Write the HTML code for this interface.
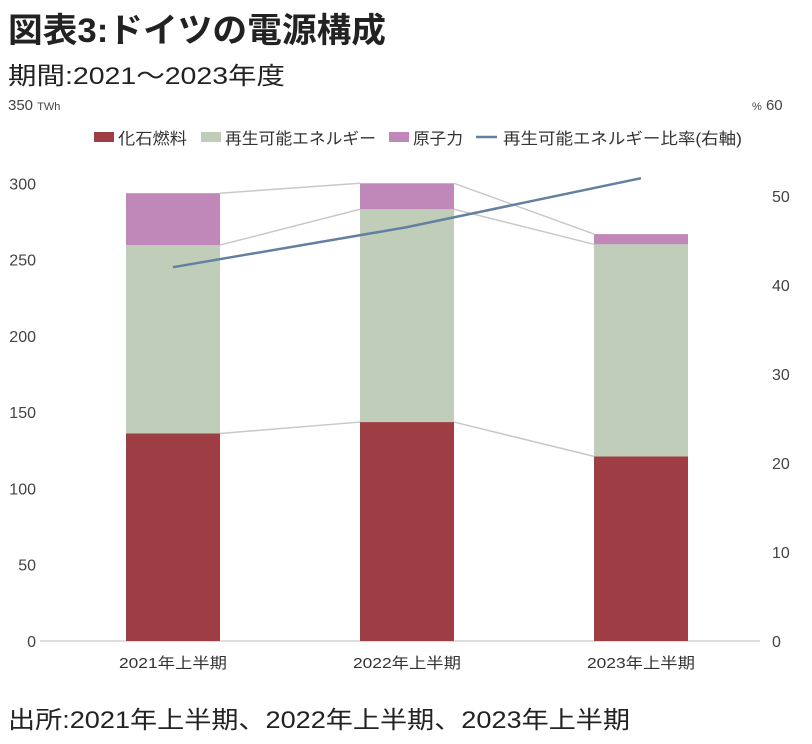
<!DOCTYPE html>
<html><head><meta charset="utf-8"><style>
body{margin:0;background:#fff;width:812px;height:739px;overflow:hidden;font-family:"Liberation Sans","Noto Sans CJK JP",sans-serif;}
svg text{font-family:"Liberation Sans","Noto Sans CJK JP",sans-serif;}
</style></head><body>
<svg width="812" height="739">
<text x="8" y="42" font-size="34" font-weight="bold" fill="#222" textLength="378" lengthAdjust="spacingAndGlyphs">図表3:ドイツの電源構成</text>
<text x="8" y="84" font-size="24" fill="#222" textLength="277" lengthAdjust="spacingAndGlyphs">期間:2021～2023年度</text>
<text x="8" y="728" font-size="24" fill="#222" textLength="622" lengthAdjust="spacingAndGlyphs">出所:2021年上半期、2022年上半期、2023年上半期</text>
<text x="8" y="110" font-size="15" fill="#444">350 <tspan font-size="11">TWh</tspan></text>
<text x="752" y="110" font-size="15" fill="#444"><tspan font-size="11">%</tspan> 60</text>
<g font-size="16" fill="#333">
<rect x="94" y="132" width="20" height="10" fill="#9e3d44"/><text x="118" y="144" textLength="69" lengthAdjust="spacingAndGlyphs">化石燃料</text>
<rect x="201" y="132" width="20" height="10" fill="#c0cdb8"/><text x="225" y="144" textLength="151" lengthAdjust="spacingAndGlyphs">再生可能エネルギー</text>
<rect x="389" y="132" width="20" height="10" fill="#c088b8"/><text x="413" y="144" textLength="50" lengthAdjust="spacingAndGlyphs">原子力</text>
<line x1="476" y1="137" x2="497" y2="137" stroke="#6480a0" stroke-width="2.5"/><text x="503" y="144" textLength="239" lengthAdjust="spacingAndGlyphs">再生可能エネルギー比率(右軸)</text>
</g>
<g id="plot"></g>
</svg>
<script>
const categories=["2021年上半期","2022年上半期","2023年上半期"];
const fossil=[136,143.5,121];
const renewable=[123.5,139.5,139];
const nuclear=[34,17,6.7];
const ratio=[42,46.5,52];
const leftTicks=[0,50,100,150,200,250,300];
const rightTicks=[0,10,20,30,40,50];
const NS="http://www.w3.org/2000/svg";
const g=document.getElementById('plot');
const y=v=>641-v*534/350;
const yr=v=>641-v*534/60;
const cx=i=>173+i*234;
const bw=94;
function mk(t,a){const e=document.createElementNS(NS,t);for(const k in a)e.setAttribute(k,a[k]);g.appendChild(e);return e;}
let ax=mk('line',{x1:40,y1:641,x2:760,y2:641,stroke:'#bbb','stroke-width':1});


leftTicks.forEach(v=>{const t=mk('text',{x:36,y:y(v)+6,'font-size':16,fill:'#444','text-anchor':'end'});t.textContent=v;

});
rightTicks.forEach(v=>{const t=mk('text',{x:772,y:yr(v)+6,'font-size':16,fill:'#444'});t.textContent=v;

});
const series=[[fossil,'#9e3d44','fossil'],[renewable,'#c0cdb8','renewable'],[nuclear,'#c088b8','nuclear']];
const tops=categories.map(()=>[]);
categories.forEach((c,i)=>{let base=0;series.forEach(([arr,col,nm])=>{const r=mk('rect',{x:cx(i)-bw/2,y:y(base+arr[i]),width:bw,height:y(base)-y(base+arr[i]),fill:col});


base+=arr[i];tops[i].push(base);});
const t=mk('text',{x:cx(i),y:668,'font-size':15,fill:'#333','text-anchor':'middle',textLength:108,lengthAdjust:'spacingAndGlyphs'});t.textContent=c;

});
for(let i=0;i<categories.length-1;i++)for(let s=0;s<3;s++){const l=mk('line',{x1:cx(i)+bw/2,y1:y(tops[i][s]),x2:cx(i+1)-bw/2,y2:y(tops[i+1][s]),stroke:'#c8c8c8','stroke-width':1.5});

}
const p=mk('polyline',{points:ratio.map((v,i)=>cx(i)+','+yr(v)).join(' '),fill:'none',stroke:'#6480a0','stroke-width':2.5});


</script>
</body></html>
